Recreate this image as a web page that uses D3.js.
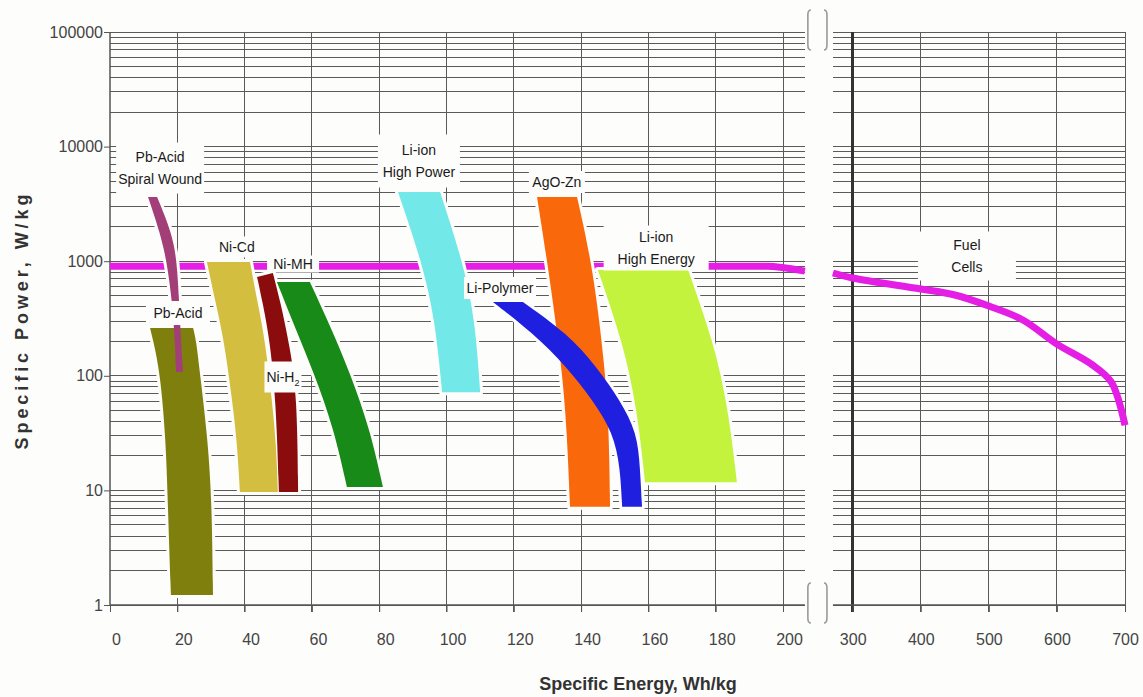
<!DOCTYPE html>
<html>
<head>
<meta charset="utf-8">
<script src="https://cdn.jsdelivr.net/npm/d3@7"></script>
<style>
  body { margin: 0; background: #fdfdfb; }
  svg { display: block; font-family: "Liberation Sans", Arial, sans-serif; }
</style>
</head>
<body>
<svg id="chart" width="1143" height="697"></svg>
<script>
// axis values
const leftTicks = [0, 20, 40, 60, 80, 100, 120, 140, 160, 180, 200];
const rightTicks = [300, 400, 500, 600, 700];
const powerTicks = [1, 10, 100, 1000, 10000, 100000];

// bands: [specific energy Wh/kg, specific power W/kg] along left and right edges
const pbSpiralLeft  = [[11.3, 3630], [14.9, 1762], [16.9, 984], [18.4, 459], [19.3, 205], [19.6, 108]];
const pbSpiralRight = [[14.0, 3630], [18.4, 1762], [19.9, 984], [20.5, 459], [21.1, 205], [21.7, 108]];

const pbAcidLeft  = [[11.9, 261], [12.8, 205], [14.9, 106], [16.6, 27.5], [17.2, 7.2], [18.1, 1.22]];
const pbAcidRight = [[24.7, 261], [25.6, 205], [26.7, 106], [29.1, 27.5], [30.3, 7.2], [30.6, 1.22]];

const niCdLeft  = [[28.8, 984], [31.2, 459], [33.9, 205], [36.3, 61], [37.7, 27.5], [38.6, 9.7]];
const niCdRight = [[41.6, 984], [43.7, 459], [46.1, 205], [48.1, 61], [49.3, 27.5], [49.9, 9.7]];

const niH2Left  = [[43.7, 728], [45.2, 459], [47.5, 205], [49.3, 61], [50.2, 9.7]];
const niH2Right = [[48.4, 789], [50.5, 459], [53.5, 178], [55.6, 65], [55.9, 9.7]];

const niMHLeft  = [[49.6, 658], [55.3, 251], [60.6, 106], [66.6, 34], [70.4, 10.7]];
const niMHRight = [[59.4, 658], [66.0, 251], [71.3, 106], [77.3, 34], [81.1, 10.7]];

const liHPLeft  = [[85.6, 4018], [92.7, 984], [96.6, 307], [98.7, 72]];
const liHPRight = [[98.1, 4018], [104.9, 984], [108.5, 307], [110.0, 72]];

const agZnLeft  = [[126.9, 3631], [130.2, 890], [134.3, 119], [135.8, 32], [136.7, 7.2]];
const agZnRight = [[138.8, 3631], [143.5, 890], [147.1, 119], [148.3, 32], [148.6, 7.2]];

const liPolyLeft  = [[113.8, 441], [125.7, 236], [135.8, 119], [143.5, 61], [149.5, 32], [151.6, 16], [152.2, 7.2]];
const liPolyRight = [[122.7, 441], [135.8, 236], [144.7, 119], [151.6, 61], [156.6, 32], [157.5, 16], [158.1, 7.2]];

const liHELeft  = [[145.0, 838], [152.2, 205], [156.6, 53], [159.0, 11.8]];
const liHERight = [[171.8, 838], [179.2, 205], [183.7, 53], [186.3, 11.8]];

// fuel cells line, left panel and right panel
const fuelLeft  = [[0, 905], [195, 905], [206.5, 820]];
const fuelRight = [[271, 789], [300, 713], [400, 572], [450, 507], [500, 406], [550, 307], [600, 189], [650, 127], [680, 88], [700, 37]];

// label texts and anchors (energy, power)
const labelTexts = [["Pb-Acid", "Spiral Wound"], ["Ni-Cd"], ["Ni-MH"], ["Pb-Acid"], ["Ni-H"], ["Li-ion", "High Power"],
                    ["AgO-Zn"], ["Li-Polymer"], ["Li-ion", "High Energy"], ["Fuel", "Cells"]];
const labelEnergy = [14.9, 37.7, 54.4, 20.2, 51.4, 91.8, 132.8, 115.9, 162.3, 467.8];
const labelPower  = [6500, 1331, 945, 353, 97.6, 7490, 4910, 584, 1303, 1110];

const svg = d3.select("#chart");

const xL = d3.scaleLinear().domain([0, 200]).range([110, 783]);
const xR = d3.scaleLinear().domain([300, 700]).range([852.7, 1125]);
const y = d3.scaleLog().domain([1, 100000]).range([605, 32]);
const leftEnd = 206.5, rightStart = 271;

const gridPowers = powerTicks.flatMap(p => p === 100000 ? [p] : d3.range(1, 10).map(m => m * p));

// ---- grid
const grid = svg.append("g")
  .attr("stroke", "#5a5a5a")
  .attr("stroke-width", 1)
  .attr("shape-rendering", "crispEdges");

grid.selectAll(".hl").data(gridPowers).join("line")
  .attr("x1", xL(0)).attr("x2", xL(leftEnd))
  .attr("y1", d => y(d)).attr("y2", d => y(d));

grid.selectAll(".hr").data(gridPowers).join("line")
  .attr("x1", xR(rightStart)).attr("x2", xR(700))
  .attr("y1", d => y(d)).attr("y2", d => y(d));

grid.selectAll(".vl").data(leftTicks.slice(1)).join("line")
  .attr("x1", d => xL(d)).attr("x2", d => xL(d))
  .attr("y1", y(100000)).attr("y2", y(1) + 7);

grid.selectAll(".vr").data(rightTicks).join("line")
  .attr("x1", d => xR(d)).attr("x2", d => xR(d))
  .attr("y1", y(100000)).attr("y2", y(1) + 7)
  .attr("stroke", d => d === 300 ? "#333" : null)
  .attr("stroke-width", d => d === 300 ? 2.5 : null);

// y axis line
svg.append("line")
  .attr("x1", xL(0)).attr("x2", xL(0))
  .attr("y1", y(100000)).attr("y2", y(1))
  .attr("stroke", "#555").attr("stroke-width", 1.5);

// ---- fuel cells line
svg.append("path")
  .attr("d", d3.line().x(d => xL(d[0])).y(d => y(d[1])).curve(d3.curveMonotoneX)(fuelLeft))
  .attr("fill", "none").attr("stroke", "#e41ee4").attr("stroke-width", 7);
svg.append("path")
  .attr("d", d3.line().x(d => xR(d[0])).y(d => y(d[1])).curve(d3.curveCatmullRom.alpha(0.5))(fuelRight))
  .attr("fill", "none").attr("stroke", "#e41ee4").attr("stroke-width", 7);

// ---- bands
const bands = [
  { left: pbAcidLeft,  right: pbAcidRight,  color: "#7f7f0e" },
  { left: pbSpiralLeft, right: pbSpiralRight, color: "#a33f78" },
  { left: niH2Left,    right: niH2Right,    color: "#8a0c0c" },
  { left: niCdLeft,    right: niCdRight,    color: "#d3be40" },
  { left: niMHLeft,    right: niMHRight,    color: "#188a18" },
  { left: liHPLeft,    right: liHPRight,    color: "#72e8e8" },
  { left: agZnLeft,    right: agZnRight,    color: "#fa680c" },
  { left: liPolyLeft,  right: liPolyRight,  color: "#1f1fe0" },
  { left: liHELeft,    right: liHERight,    color: "#c3f33c" }
];

const edge = d3.line().x(d => xL(d[0])).y(d => y(d[1])).curve(d3.curveBasis);
const bandPath = b => edge(b.left) + "L" + edge(b.right.slice().reverse()).slice(1) + "Z";

// white halo behind shapes
svg.append("g").selectAll("path").data(bands).join("path")
  .attr("d", bandPath)
  .attr("fill", "#fdfdfb").attr("stroke", "#fdfdfb")
  .attr("stroke-width", 6).attr("stroke-linejoin", "round");

svg.append("g").selectAll("path").data(bands).join("path")
  .attr("d", bandPath)
  .attr("fill", d => d.color);

// ---- labels
const boxW = [88, 45, 52, 64, 37, 82, 56, 72, 105, 98];
const boxH = [51, 21, 17, 24, 31, 53, 22, 22, 45, 49];
const labels = labelTexts.map((t, i) => ({
  lines: t,
  x: i === 9 ? xR(labelEnergy[i]) : xL(labelEnergy[i]),
  y: y(labelPower[i]),
  w: boxW[i], h: boxH[i], sub: i === 4
}));

const lg = svg.append("g").selectAll("g").data(labels).join("g")
  .attr("transform", d => `translate(${d.x},${d.y})`);

lg.append("rect")
  .attr("x", d => -d.w / 2).attr("y", d => -d.h / 2)
  .attr("width", d => d.w).attr("height", d => d.h)
  .attr("fill", "#fdfdfb");

lg.each(function(d) {
  const g = d3.select(this);
  const n = d.lines.length;
  d.lines.forEach((s, j) => {
    const t = g.append("text")
      .attr("text-anchor", "middle")
      .attr("y", (j - (n - 1) / 2) * 22)
      .attr("dy", "0.35em")
      .attr("font-size", 14)
      .attr("fill", "#1a1a1a")
      .text(s);
    if (d.sub) {
      t.append("tspan").attr("font-size", 9).attr("dy", 4).text("2");
    }
  });
});

// ---- axes text
const axisL = svg.append("g")
  .attr("transform", `translate(${xL(0)},0)`)
  .call(d3.axisLeft(y).tickValues(powerTicks).tickFormat(d3.format("d")).tickSize(6).tickPadding(1));

const axisBL = svg.append("g")
  .attr("transform", `translate(0,${y(1)})`)
  .call(d3.axisBottom(xL).tickValues(leftTicks).tickSize(7).tickPadding(22));
axisBL.selectAll("text").attr("dx", 6);

const axisBR = svg.append("g")
  .attr("transform", `translate(0,${y(1)})`)
  .call(d3.axisBottom(xR).tickValues(rightTicks).tickSize(7).tickPadding(22));

[axisL, axisBL, axisBR].forEach(a => {
  a.select(".domain").remove();
  a.selectAll("line").attr("stroke", "#555");
  a.selectAll("text")
    .attr("font-family", "Liberation Sans, Arial, sans-serif")
    .attr("font-size", 16).attr("fill", "#444");
});

// bottom axis line for both panels
svg.append("line").attr("x1", xL(0)).attr("x2", xL(leftEnd)).attr("y1", y(1)).attr("y2", y(1))
  .attr("stroke", "#555").attr("stroke-width", 1.5);
svg.append("line").attr("x1", xR(rightStart)).attr("x2", xR(700)).attr("y1", y(1)).attr("y2", y(1))
  .attr("stroke", "#555").attr("stroke-width", 1.5);

// ---- axis break brackets
const bx0 = xL(leftEnd) + 3, bx1 = xR(rightStart) - 6;
const bracket = (x, y0, y1, dir) =>
  `M${x + 3 * dir},${y0} Q${x},${y0} ${x},${y0 + 5} L${x},${y1 - 5} Q${x},${y1} ${x + 3 * dir},${y1}`;
const brackets = svg.append("g").attr("fill", "none").attr("stroke", "#9a9a9a").attr("stroke-width", 1.6);
[[10, 50], [583, 623]].forEach(([a, b]) => {
  brackets.append("path").attr("d", bracket(bx0, a, b, 1));
  brackets.append("path").attr("d", bracket(bx1, a, b, -1));
});

// ---- titles
svg.append("text")
  .attr("x", 638).attr("y", 690)
  .attr("text-anchor", "middle")
  .attr("font-weight", "bold").attr("font-size", 18).attr("fill", "#333")
  .text("Specific Energy, Wh/kg");

svg.append("text")
  .attr("transform", "translate(28,322) rotate(-90)")
  .attr("text-anchor", "middle")
  .attr("font-weight", "bold").attr("font-size", 18).attr("fill", "#333")
  .attr("textLength", 255).attr("lengthAdjust", "spacing")
  .text("Specific Power, W/kg");
</script>
</body>
</html>
